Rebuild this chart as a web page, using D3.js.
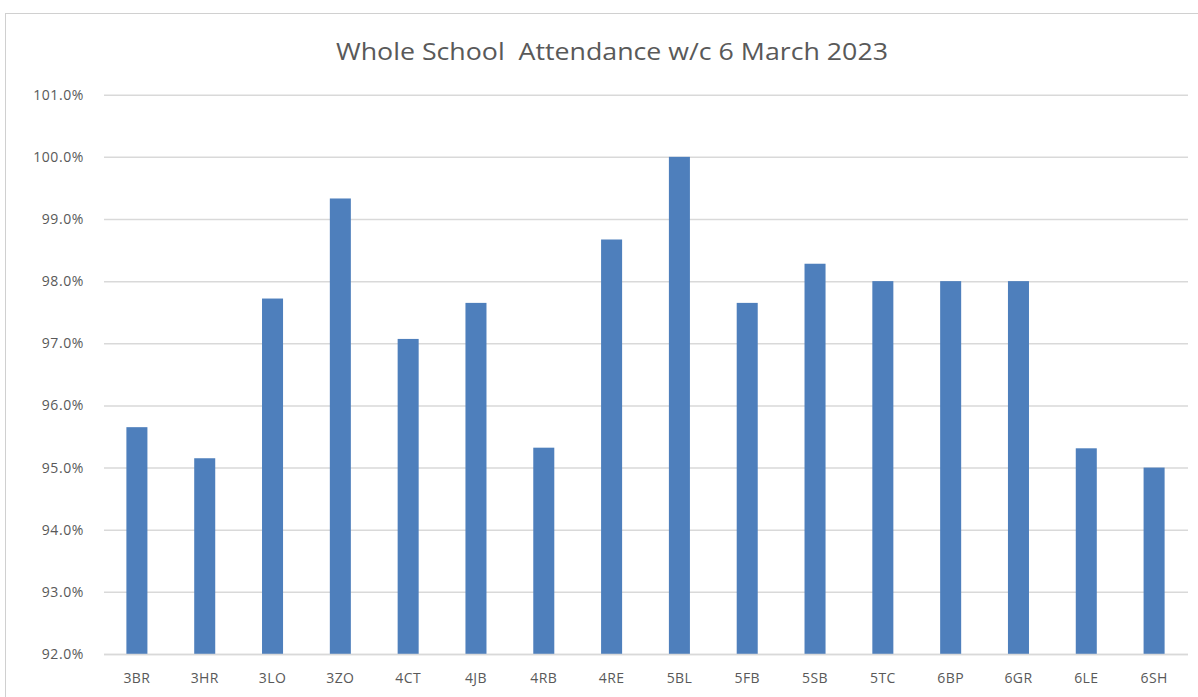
<!DOCTYPE html>
<html>
<head>
<meta charset="utf-8">
<script src="https://cdn.jsdelivr.net/npm/d3@7"></script>
<style>
  html, body { margin: 0; padding: 0; background: #fff; }
  svg { display: block; }
</style>
</head>
<body>
<script>
const categories = ["3BR","3HR","3LO","3ZO","4CT","4JB","4RB","4RE","5BL","5FB","5SB","5TC","6BP","6GR","6LE","6SH"];
const attendance = [95.65, 95.15, 97.72, 99.33, 97.07, 97.65, 95.32, 98.67, 100.0, 97.65, 98.28, 98.0, 98.0, 98.0, 95.31, 95.0];
const yTicks = [92, 93, 94, 95, 96, 97, 98, 99, 100, 101];
const title = "Whole School  Attendance w/c 6 March 2023";

const W = 1198, H = 697;

const svg = d3.select("body").append("svg").attr("width", W).attr("height", H);

// chart frame
svg.append("rect").attr("x", 5.5).attr("y", 13.5).attr("width", W + 10).attr("height", H + 10)
  .attr("fill", "#fff").attr("stroke", "#d0d0d0").attr("stroke-width", 1);

const x = d3.scaleBand().domain(categories).range([103, 1188]).paddingInner(0.69).paddingOuter(0.345);
const y = d3.scaleLinear().domain([92, 101]).range([654, 94.7]);

const font = "'Open Sans', 'Liberation Sans', Arial, sans-serif";

// gridlines
const yAxis = d3.axisLeft(y).tickValues(yTicks).tickSize(-(1188 - 104)).tickFormat(d => d.toFixed(1) + "%");
const gy = svg.append("g").attr("transform", "translate(104,0)").call(yAxis);
gy.select(".domain").remove();
gy.selectAll(".tick line").attr("stroke", "#d9d9d9").attr("stroke-width", 1.5);
gy.selectAll(".tick text").attr("x", -20).attr("fill", "#595959")
  .style("font-family", font).style("font-size", "14px").style("letter-spacing", "0.6px");

// bars
svg.append("g").selectAll("rect").data(categories).join("rect")
  .attr("x", d => x(d))
  .attr("width", x.bandwidth())
  .attr("y", (d, i) => y(attendance[i]))
  .attr("height", (d, i) => y(92) - y(attendance[i]))
  .attr("fill", "#4e7fbc");

// x axis
const xAxis = d3.axisBottom(x).tickSize(0).tickPadding(0);
const gx = svg.append("g").attr("transform", "translate(0,654)").call(xAxis);
gx.select(".domain").attr("stroke", "#d9d9d9").attr("stroke-width", 1.5).attr("d", "M104,0.5H1188");
gx.selectAll(".tick text").attr("y", 25).attr("dy", "0.32em").attr("fill", "#595959")
  .style("font-family", font).style("font-size", "14px").style("letter-spacing", "0.4px");

// title
svg.append("text").attr("x", 336).attr("y", 60).attr("text-anchor", "start")
  .attr("fill", "#595959")
  .attr("textLength", 552).attr("lengthAdjust", "spacingAndGlyphs")
  .style("font-family", font)
  .style("font-size", "24px")
  .style("white-space", "pre")
  .text(title);
</script>
</body>
</html>
